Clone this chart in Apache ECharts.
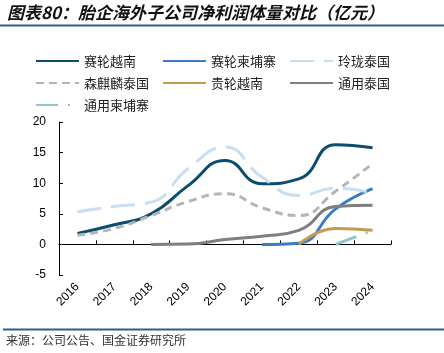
<!DOCTYPE html>
<html>
<head>
<meta charset="utf-8">
<script src="https://cdn.jsdelivr.net/npm/echarts@6/dist/echarts.min.js"></script>
<style>
html,body{margin:0;padding:0;background:#fff;}
#c{width:444px;height:353px;}
</style>
</head>
<body>
<div id="c"></div>
<script>
var categories = ['2016','2017','2018','2019','2020','2021','2022','2023','2024'];
var yTicks = [-5, 0, 5, 10, 15, 20];
var sailunVN   = [1.8, 3.2, 5.0, 9.6, 13.7, 9.9, 10.7, 16.3, 15.8];
var sailunKH   = ['-', '-', '-', '-', '-', 0, 0.2, 5.8, 9.1];
var linglongTH = [5.3, 6.2, 6.9, 12.4, 15.9, 11.0, 8.0, 9.2, 8.4];
var senqilinTH = [1.5, 2.6, 4.7, 7.0, 8.3, 6.0, 4.7, 8.7, 13.2];
var guilunVN   = ['-', '-', '-', '-', '-', '-', 0, 2.6, 2.3];
var tongyongTH = ['-', '-', 0, 0.05, 0.8, 1.35, 2.3, 6.2, 6.4];
var tongyongKH = ['-', '-', '-', '-', '-', '-', '-', 0, 2.3];

var seriesNames = ['赛轮越南','赛轮柬埔寨','玲珑泰国','森麒麟泰国','贵轮越南','通用泰国','通用柬埔寨'];
var seriesData = [sailunVN, sailunKH, linglongTH, senqilinTH, guilunVN, tongyongTH, tongyongKH];
var colors = ['#0d4c6e','#3b7dc4','#c9def1','#b5b5b5','#c49a52','#7f7f7f','#8ec6cc'];
var dashes = ['solid','solid',[24,10],[8,5],'solid','solid',[22,10,2,10]];

var chart = echarts.init(document.getElementById('c'), null, {renderer:'canvas'});
var font = 'Noto Sans CJK SC';
var series = seriesNames.map(function(n,i){
  return {
    name:n, type:'line', data:seriesData[i], smooth:0.5, symbol:'none',
    xAxisIndex:0, yAxisIndex:0,
    lineStyle:{color:colors[i], width:3, type:dashes[i]},
    itemStyle:{color:colors[i]}
  };
});
function legend(left, names){
  return {
    orient:'vertical', left:left, top:49, itemWidth:43, itemHeight:14, itemGap:8,
    data:names,
    itemStyle:{opacity:0},
    textStyle:{fontFamily:font, fontSize:13, color:'#222', lineHeight:14},
    selectedMode:false
  };
}
chart.setOption({
  animation:false,
  backgroundColor:'#fff',
  legend:[
    legend(30, ['赛轮越南','森麒麟泰国','通用柬埔寨']),
    legend(157, ['赛轮柬埔寨','贵轮越南']),
    legend(284, ['玲珑泰国','通用泰国'])
  ],
  grid:{left:59, right:53, top:122, bottom:78, containLabel:false},
  xAxis:[{
    type:'category', data:categories, boundaryGap:true, position:'bottom',
    axisLine:{show:true, onZero:true, lineStyle:{color:'#000', width:1}},
    axisTick:{show:true, inside:true, length:4, lineStyle:{color:'#000'}},
    axisLabel:{show:false}, splitLine:{show:false}
  },{
    type:'category', data:categories, boundaryGap:true, position:'bottom',
    axisLine:{show:false, onZero:false}, axisTick:{show:false},
    axisLabel:{rotate:45, margin:10, fontSize:12, color:'#000', fontFamily:'Liberation Sans'},
    splitLine:{show:false}
  }],
  yAxis:{
    type:'value', min:yTicks[0], max:yTicks[yTicks.length-1], interval:5,
    axisLine:{show:true, lineStyle:{color:'#000', width:1}},
    axisTick:{show:true, inside:true, length:4, lineStyle:{color:'#000'}},
    axisLabel:{margin:13, fontSize:12, color:'#000', fontFamily:'Liberation Sans'},
    splitLine:{show:false}
  },
  series:series,
  graphic:[
    {type:'text', left:7, top:4, style:{text:'图表80：胎企海外子公司净利润体量对比（亿元）', font:'italic bold 17px "Noto Sans CJK SC"', fill:'#111'}},
    {type:'rect', shape:{x:0, y:24.5, width:444, height:2}, style:{fill:'#2b5f86'}},
    {type:'rect', shape:{x:3, y:328.5, width:441, height:2}, style:{fill:'#2b5f86'}},
    {type:'text', left:6, top:334, style:{text:'来源：公司公告、国金证券研究所', font:'12px "Noto Sans CJK SC"', fill:'#333'}}
  ]
});
</script>
</body>
</html>
